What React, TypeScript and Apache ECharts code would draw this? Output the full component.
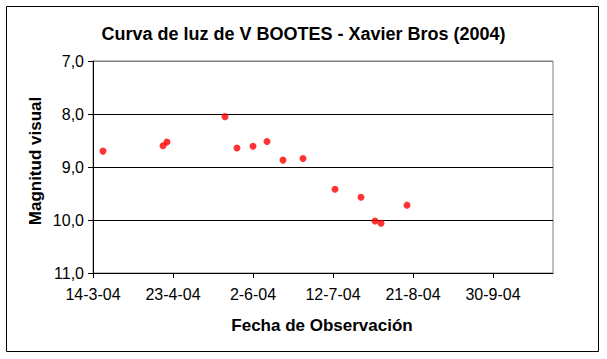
import React, { useEffect, useRef } from "react";
import * as echarts from "echarts";

const titleText = "Curva de luz de V BOOTES - Xavier Bros (2004)";
const xAxisTitle = "Fecha de Observación";
const yAxisTitle = "Magnitud visual";

const obsDates = [
  "2004-03-19", "2004-04-18", "2004-04-20", "2004-05-19", "2004-05-25",
  "2004-06-02", "2004-06-09", "2004-06-17", "2004-06-27", "2004-07-13",
  "2004-07-26", "2004-08-02", "2004-08-05", "2004-08-18",
];
const magnitudes = [
  8.70, 8.60, 8.53, 8.05, 8.64,
  8.61, 8.52, 8.87, 8.84, 9.42,
  9.57, 10.02, 10.06, 9.72,
];

const xStartDate = "2004-03-14";
const xEndDate = "2004-10-30";
const xTickDays = [0, 40, 80, 120, 160, 200];
const yTicks = [7, 8, 9, 10, 11];

const DAY = 86400000;
const toUTC = (s: string) => {
  const [y, m, d] = s.split("-").map(Number);
  return Date.UTC(y, m - 1, d);
};
const base = toUTC(xStartDate);
const dayOf = (s: string) => Math.round((toUTC(s) - base) / DAY);
const fmtDay = (v: number) => {
  const dt = new Date(base + v * DAY);
  const yy = String(dt.getUTCFullYear() % 100).padStart(2, "0");
  return `${dt.getUTCDate()}-${dt.getUTCMonth() + 1}-${yy}`;
};

export default function App() {
  const ref = useRef<HTMLDivElement>(null);
  useEffect(() => {
    if (!ref.current) return;
    const chart = echarts.init(ref.current, undefined, { renderer: "svg" });
    const data = obsDates.map((d, i) => [dayOf(d), magnitudes[i]]);
    const font = "'Liberation Sans', Arial, sans-serif";
    chart.setOption({
      animation: false,
      backgroundColor: "#ffffff",
      title: {
        text: titleText,
        left: "center",
        top: 20,
        textStyle: { fontFamily: font, fontSize: 18, fontWeight: "bold", color: "#000" },
      },
      grid: {
        left: 93,
        top: 61,
        right: 54,
        bottom: 86,
        show: true,
        borderColor: "#808080",
        borderWidth: 1,
        backgroundColor: "#ffffff",
      },
      xAxis: {
        type: "value",
        min: 0,
        max: dayOf(xEndDate),
        interval: 40,
        axisLine: { show: true, lineStyle: { color: "#000", width: 1 } },
        axisTick: { show: true, length: 5, lineStyle: { color: "#000" }, customValues: xTickDays },
        axisLabel: {
          customValues: xTickDays,
          formatter: (v: number) => fmtDay(v),
          fontFamily: font,
          fontSize: 16,
          color: "#000",
          margin: 13,
        },
        splitLine: { show: false },
      },
      yAxis: {
        type: "value",
        inverse: true,
        min: 7,
        max: 11,
        interval: 1,
        axisLine: { show: true, lineStyle: { color: "#000", width: 1 } },
        axisTick: { show: true, length: 5, lineStyle: { color: "#000" }, customValues: yTicks },
        axisLabel: {
          customValues: yTicks,
          formatter: (v: number) => v.toFixed(1).replace(".", ","),
          fontFamily: font,
          fontSize: 16,
          color: "#000",
          margin: 9,
        },
        splitLine: {
          show: true,
          lineStyle: { color: ["#808080", "#000000", "#000000", "#000000", "#000000"], width: 1 },
        },
      },
      graphic: [
        {
          type: "rect",
          shape: { x: 6.5, y: 6.5, width: 592, height: 345 },
          style: { fill: "none", stroke: "#000", lineWidth: 1 },
          z: 100,
          silent: true,
        },
        {
          type: "text",
          x: 35,
          y: 161,
          rotation: Math.PI / 2,
          style: {
            text: yAxisTitle,
            fontFamily: font,
            fontSize: 17,
            fontWeight: "bold",
            fill: "#000",
            align: "center",
            verticalAlign: "middle",
          },
        },
        {
          type: "text",
          x: 322,
          y: 325,
          style: {
            text: xAxisTitle,
            fontFamily: font,
            fontSize: 17,
            fontWeight: "bold",
            fill: "#000",
            align: "center",
            verticalAlign: "middle",
          },
        },
      ],
      series: [
        {
          type: "scatter",
          data,
          symbol: "circle",
          symbolSize: 7,
          itemStyle: { color: "#ff0000" },
        },
      ],
    });
    return () => chart.dispose();
  }, []);
  return (
    <div
      ref={ref}
      style={{ position: "fixed", left: 0, top: 0, width: 607, height: 359 }}
    />
  );
}
